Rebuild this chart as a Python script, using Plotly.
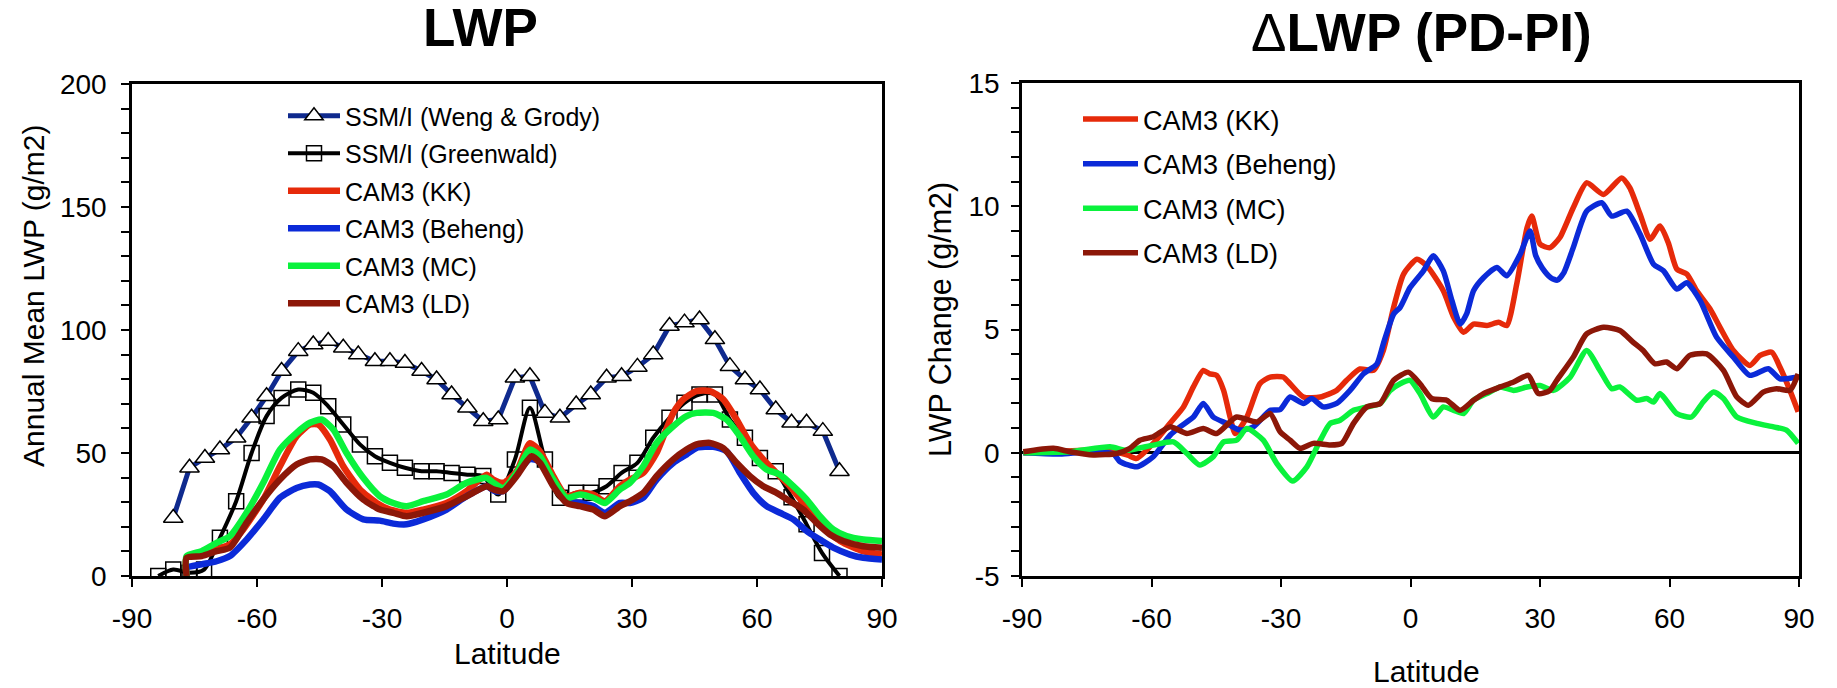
import plotly.graph_objects as go

# page body has an 8px margin; the figure is sized so it fills the window exactly
OFF = 8
W, H = 1837 - OFF, 688 - OFF

# ---------------- Left panel: LWP ----------------
lat_wg = [-80.1, -76.2, -72.5, -68.9, -65.0, -61.3, -57.7, -54.1, -50.1, -46.5, -42.9, -39.3, -35.7, -31.7,
          -28.1, -24.5, -20.5, -16.9, -13.3, -9.5, -5.7, -2.1, 1.9, 5.5, 9.1, 12.7, 16.6, 20.1, 23.9, 27.5,
          31.3, 35.1, 39.0, 42.6, 46.2, 49.9, 53.5, 57.1, 60.7, 64.5, 68.3, 71.9, 75.8, 79.8]
lwp_wg = [23.6, 44, 48, 51.4, 56.2, 64.3, 73.1, 83.3, 91.4, 94.1, 95.5, 92.8, 90, 87.3,
          87.3, 86.6, 83.3, 79.9, 73.8, 68.4, 62.9, 63.6, 80.6, 81.2, 66.3, 64.3, 69.7, 73.8, 80.6, 81.2,
          85, 90, 101.6, 103, 104.3, 96.2, 85.3, 79.9, 75.8, 67.7, 62.3, 62.3, 58.9, 42.6]

lat_gw = [-83.7, -80.1, -76.2, -72.7, -68.9, -65.0, -61.3, -57.7, -54.1, -50.1, -46.5, -42.9, -39.3, -35.3,
          -31.7, -28.1, -24.5, -20.5, -16.9, -13.3, -9.5, -5.7, -2.1, 1.9, 5.5, 9.1, 12.7, 16.6, 20.1, 23.9,
          27.5, 31.3, 35.1, 39.0, 42.6, 46.2, 49.9, 53.5, 57.1, 60.7, 64.5, 68.3, 71.9, 75.6, 79.8]
lwp_gw = [0, 2.6, 1.3, 2.6, 15.5, 30.4, 50, 65, 72.4, 75.8, 74.5, 69, 61.6, 53.5,
          48.7, 46, 44, 42.6, 42.6, 41.9, 41.2, 40.6, 33.1, 47.4, 68.4, 47.4, 31.8, 33.8, 33.8, 36.5,
          41.9, 46, 56.2, 64.3, 70.4, 73.8, 73.8, 63.6, 56.2, 48, 42.6, 32, 21, 9.4, 0]

lat_kk = [-76.9, -76.9, -73.3, -69.7, -66.5, -63.3, -58.5, -54.5, -50.5, -47.3, -45.3, -42.5, -39.3, -35.3,
          -31.3, -28.1, -24.1, -20.1, -14.5, -9.7, -4.9, -3.3, -0.9, 2.3, 5.5, 7.9, 11.1, 14.3, 17.5, 20.7,
          23.5, 27.1, 29.5, 32.7, 35.9, 39.9, 42.3, 45.5, 48.7, 51.9, 55.1, 58.3, 61.5, 64.7, 67.9, 71.1,
          74.3, 77.5, 80.7, 85.5, 90]
lwp_kk = [0, 7.4, 8.7, 10.8, 12.8, 18.9, 31.1, 44.6, 56.8, 61.6, 61.6, 55.5, 44.6, 35.2,
          29.7, 27, 25.7, 27, 29.7, 34.5, 41.2, 39.2, 37.9, 42.5, 54, 50.7, 40.6, 32.4, 33.8, 33.1,
          30.4, 36.5, 39.2, 41.9, 50, 66.3, 71.8, 75.2, 75.2, 71.8, 63.6, 54.1, 47.4, 41.9, 36.5, 29.7,
          23, 17.5, 13.5, 10.1, 8.7]

lat_be = [-76.9, -76.9, -73.3, -69.7, -66.5, -62.5, -58.5, -54.5, -50.5, -47.3, -45.3, -42.5, -38.5, -34.5,
          -30.5, -27.3, -24.1, -20.1, -14.5, -9.7, -4.9, -2.9, -0.9, 2.3, 5.5, 7.9, 11.1, 14.3, 17.5, 20.7,
          23.5, 27.1, 29.5, 32.7, 35.9, 39.9, 43.1, 45.5, 49.5, 52.7, 55.9, 59.1, 62.3, 65.5, 68.7, 71.9,
          75.1, 78.3, 82.3, 85.5, 90]
lwp_be = [0, 3.3, 4.7, 6, 8.1, 14.8, 23, 31.8, 35.8, 37.2, 37.2, 34.5, 27, 23,
          22.5, 21.3, 21, 23, 27, 32.4, 36.5, 34.5, 34.5, 41.5, 47.5, 46.5, 37.9, 30.4, 29.7, 28.4,
          25.7, 29.7, 29.7, 31.8, 39.2, 46, 49.4, 52.1, 52.5, 50.7, 41.9, 33.8, 28.4, 25.7, 23, 18.3,
          14.8, 11.5, 8.7, 7.4, 6.7]

lat_mc = [-76.9, -76.9, -73.3, -69.7, -66.5, -62.5, -58.5, -54.5, -50.5, -47.3, -44.5, -41.7, -38.5, -34.5,
          -30.5, -27.3, -24.1, -20.1, -14.5, -9.7, -4.9, -3.3, -0.9, 2.3, 5.5, 7.9, 11.1, 14.3, 17.5, 20.7,
          23.5, 27.1, 29.5, 32.7, 35.9, 39.9, 43.1, 45.5, 49.5, 52.7, 55.9, 59.1, 62.3, 65.5, 68.7, 71.9,
          75.1, 78.3, 81.5, 85.5, 90]
lwp_mc = [0, 8.1, 10.1, 13.5, 16.2, 25.7, 37.9, 51.4, 58.2, 62.3, 63.6, 59.6, 50, 39.9,
          32.4, 29.7, 28.4, 30.4, 33.1, 37.9, 39.9, 37.9, 35.8, 41.9, 51.4, 48.7, 39.2, 31.8, 33.1, 31.8,
          29.7, 35.2, 37.9, 44.6, 54.1, 60.9, 65, 66.3, 66.3, 63.6, 56.8, 48.7, 43.3, 41.2, 36.5, 31.1,
          24.3, 18.9, 16.2, 14.8, 14.2]

lat_ld = [-76.9, -76.9, -73.3, -69.7, -66.5, -62.5, -58.5, -54.5, -50.5, -47.3, -44.5, -41.7, -38.5, -34.5,
          -30.5, -27.3, -24.1, -20.1, -14.5, -9.7, -4.9, -3.3, -0.9, 2.3, 5.9, 7.9, 11.1, 14.3, 17.5, 20.7,
          23.5, 27.1, 29.5, 32.7, 35.9, 39.9, 43.1, 45.5, 48.7, 51.9, 55.1, 58.3, 61.5, 64.7, 67.9, 71.1,
          74.3, 77.5, 80.7, 85.5, 90]
lwp_ld = [0, 7.4, 8.1, 10.1, 11.5, 21.6, 31.1, 39.2, 45.3, 47.4, 47.4, 44.6, 37.9, 31.1,
          27, 25.7, 24.3, 25.7, 28.4, 32.4, 36.5, 35.2, 34.5, 40.6, 48.7, 46, 36.5, 29.7, 28.4, 27,
          24.3, 28.4, 30.4, 33.8, 40.6, 47.4, 51.4, 53.5, 54.1, 52, 46, 40.6, 36.5, 33.8, 30.4, 27,
          21.6, 16.9, 14.2, 12.1, 11.5]

# ---------------- Right panel: dLWP (PD-PI) ----------------
dlat_kk = [-89.7, -82.7, -75, -68.8, -65.5, -63.4, -59.6, -55.7, -52.6, -50.3, -48, -46.5, -44.9, -43.3,
           -41.8, -40.6, -37.9, -34.9, -32.5, -29.5, -27.9, -24.8, -20.9, -17.1, -14.8, -11.7, -8.6, -6.3,
           -3.9, -1.6, 1.5, 3.8, 7.6, 10, 12.3, 14.6, 17.7, 20.4, 22.3, 24.6, 27, 28.1, 30, 32.3, 34.6,
           37.7, 40.8, 44.7, 48.9, 50.8, 53.2, 55.5, 57.8, 59.7, 61.7, 64, 66.3, 69.4, 71.7, 74.8, 78.6,
           81, 83.7, 85.6, 87.9, 89.8]
dlwp_kk = [0, 0.04, 0.1, 0.05, -0.1, -0.23, 0.38, 1.2, 1.86, 2.67, 3.34, 3.2, 3.14, 2.53,
           1.45, 0.78, 1.45, 2.8, 3.07, 3.07, 2.8, 2.26, 2.26, 2.53, 2.94, 3.4, 3.34, 4.15,
           5.9, 7.25, 7.85, 7.58, 6.57, 5.5, 4.89, 5.22, 5.16, 5.29, 5.16, 6.84, 9.13, 9.6, 8.46, 8.32, 8.73,
           9.94, 10.95, 10.48, 11.15, 10.75, 9.67, 8.66, 9.2, 8.53, 7.45, 7.25, 6.57, 5.83, 5.09, 4.15, 3.54,
           3.95, 4.08, 3.47, 2.53, 1.66]

dlat_be = [-89.7, -81.2, -75, -68.8, -67.3, -63.4, -59.6, -55.7, -53.4, -50.3, -48, -45.7, -42.6, -39.5,
           -36.4, -32.5, -30.2, -27.9, -24.8, -22.9, -20.2, -17.1, -14, -10.9, -7.8, -6.3, -3.9, -2.4,
           -0.1, 3, 5.3, 7.6, 9.6, 11.5, 13, 14.6, 16.9, 20, 22.3, 25.4, 27.7, 29, 30.5, 32.5, 34, 35.5,
           37.7, 40.8, 44.3, 46.6, 50.1, 53.2, 56.3, 58.6, 61.7, 64, 67.1, 70.9, 74.8, 78.6, 82.9, 85.6, 89.8]
dlwp_be = [0, -0.05, 0.04, -0.05, -0.36, -0.57, -0.16, 0.71, 1.05, 1.45, 2.0, 1.45, 1.19, 0.92,
           1.05, 1.72, 1.75, 2.26, 2.0, 2.2, 1.86, 2.0, 2.53, 3.2, 3.6, 4.42, 5.63, 5.9,
           6.7, 7.38, 7.99, 7.38, 6.17, 5.22, 5.63, 6.57, 7.1, 7.52, 7.18, 8.05, 9.0, 8.0, 7.5, 7.1, 7.0, 7.3,
           8.32, 9.8, 10.14, 9.6, 9.8, 8.86, 7.65, 7.38, 6.64, 6.9, 6.17, 4.69, 3.88, 3.14, 3.41, 3.0, 3.07]

dlat_mc = [-89.7, -78.9, -69.6, -65.8, -59.6, -54.9, -51.8, -48.8, -45.7, -43.3, -40.3, -37.9, -34.1, -31,
           -27.3, -24, -20.9, -18.6, -16.3, -13.2, -10.1, -7, -4.7, -2.4, -0.1, 2.2, 5.3, 7.6, 10, 12.3,
           14.6, 17.7, 20.8, 23.9, 27, 30, 33.1, 37, 40.8, 43.9, 46.6, 48.5, 52.4, 54.7, 56.3, 57.8, 61.7,
           65.1, 67.8, 70.2, 72.5, 75.6, 80.2, 84.1, 87.1, 89.8]
dlwp_mc = [0, 0.04, 0.24, 0.1, 0.31, 0.44, -0.03, -0.5, -0.16, 0.44, 0.51, 0.98, 0.51, -0.43,
           -1.15, -0.57, 0.51, 1.19, 1.32, 1.72, 1.86, 2.0, 2.53, 2.8, 2.94, 2.4, 1.45, 1.86, 1.72, 1.59,
           2.13, 2.4, 2.67, 2.53, 2.67, 2.73, 2.53, 3.07, 4.15, 3.34, 2.6, 2.67, 2.13, 2.2, 2.06, 2.4, 1.59,
           1.45, 2.06, 2.46, 2.2, 1.45, 1.19, 1.05, 0.92, 0.38]

dlat_ld = [-89.7, -82.7, -78.9, -73.5, -68.1, -65, -62.7, -59.6, -55.7, -51.8, -48, -44.9, -40.3, -35.6,
           -32.5, -30.2, -27.9, -25.6, -22.5, -18.6, -15.9, -13.2, -10.1, -7, -3.9, -0.5, 2.2, 4.9, 8.4,
           11.5, 14.6, 16.9, 20.8, 23.9, 27.3, 29.6, 32.3, 33.9, 37.7, 40.8, 44.7, 48.5, 51.6, 53.9, 56.6,
           59.3, 61.7, 64.7, 68.6, 72.5, 75.6, 78.3, 81.7, 84.8, 87.9, 89.8]
dlwp_ld = [0.04, 0.18, 0.04, -0.09, -0.03, 0.18, 0.51, 0.65, 1.05, 0.78, 0.98, 0.78, 1.45, 1.25,
           1.59, 0.85, 0.51, 0.18, 0.38, 0.31, 0.38, 1.19, 1.86, 2.0, 2.94, 3.27, 2.8, 2.2, 2.13,
           1.72, 2.13, 2.4, 2.67, 2.87, 3.14, 2.4, 2.53, 2.94, 3.88, 4.82, 5.09, 4.96, 4.48, 4.15, 3.61,
           3.68, 3.41, 3.95, 4.01, 3.34, 2.26, 1.93, 2.46, 2.6, 2.53, 3.2]

# tick labels (hyphen minus as in the reference)
x_ticks = [-90, -60, -30, 0, 30, 60, 90]
x_ticktext = ["-90", "-60", "-30", "0", "30", "60", "90"]
y1_ticks = [0, 50, 100, 150, 200]
y1_ticktext = ["0", "50", "100", "150", "200"]
y1_minor = list(range(0, 201, 10))
y2_ticks = [-5, 0, 5, 10, 15]
y2_ticktext = ["-5", "0", "5", "10", "15"]
y2_minor = list(range(-5, 16, 1))

RED, BLUE, GREEN, BROWN, NAVY = "#e62a0a", "#0b2ad8", "#0af23c", "#8c1708", "#0f2a8e"
FONT = "Arial, Liberation Sans, sans-serif"

fig = go.Figure()

# left traces
fig.add_trace(go.Scatter(x=lat_wg, y=lwp_wg, mode="lines+markers", name="SSM/I (Weng & Grody)",
                         line=dict(color=NAVY, width=5),
                         marker=dict(symbol="triangle-up", size=17, color="white",
                                     line=dict(color="black", width=1.5)),
                         xaxis="x", yaxis="y", legend="legend", legendgroup="a1"))
fig.add_trace(go.Scatter(x=lat_gw, y=lwp_gw, mode="lines+markers", name="SSM/I (Greenwald)",
                         line=dict(color="black", width=4, shape="spline", smoothing=0.8),
                         marker=dict(symbol="square-open", size=15, color="black",
                                     line=dict(color="black", width=1.5)),
                         xaxis="x", yaxis="y", legend="legend", legendgroup="a2"))
for i, (lx, ly, nm, col) in enumerate([(lat_kk, lwp_kk, "CAM3 (KK)", RED),
                                       (lat_be, lwp_be, "CAM3 (Beheng)", BLUE),
                                       (lat_mc, lwp_mc, "CAM3 (MC)", GREEN),
                                       (lat_ld, lwp_ld, "CAM3 (LD)", BROWN)]):
    fig.add_trace(go.Scatter(x=lx, y=ly, mode="lines", name=nm,
                             line=dict(color=col, width=6.5, shape="spline", smoothing=0.6),
                             xaxis="x", yaxis="y", legend="legend", legendgroup="a%d" % (i + 3)))

# right traces
for i, (lx, ly, nm, col) in enumerate([(dlat_kk, dlwp_kk, "CAM3 (KK)", RED),
                                       (dlat_be, dlwp_be, "CAM3 (Beheng)", BLUE),
                                       (dlat_mc, dlwp_mc, "CAM3 (MC)", GREEN),
                                       (dlat_ld, dlwp_ld, "CAM3 (LD)", BROWN)]):
    fig.add_trace(go.Scatter(x=lx, y=ly, mode="lines", name=nm,
                             line=dict(color=col, width=5.5, shape="spline", smoothing=0.6),
                             xaxis="x2", yaxis="y2", legend="legend2", legendgroup="b%d" % i))


def px(x):
    # window pixel -> paper fraction
    return (x - OFF) / W


def py(y):
    return 1 - (y - OFF) / H


axis_common = dict(showline=True, linecolor="black", linewidth=2.5, mirror=True, showgrid=False,
                   ticks="outside", ticklen=8, tickwidth=2, tickcolor="black", automargin=False,
                   tickmode="array", tickfont=dict(family=FONT, size=28, color="black"))
minor_common = dict(ticks="outside", ticklen=8, tickwidth=2, tickcolor="black", showgrid=False,
                    tickmode="array")

fig.update_layout(
    template="none",
    width=W, height=H, margin=dict(l=0, r=0, t=0, b=0, pad=0, autoexpand=False),
    paper_bgcolor="white", plot_bgcolor="white",
    font=dict(family=FONT, color="black"),
    xaxis=dict(domain=[px(132), px(882)], range=[-90, 90], tickvals=x_ticks, ticktext=x_ticktext,
               anchor="y", zeroline=False, ticklabelstandoff=8, **axis_common),
    yaxis=dict(domain=[py(576), py(84)], range=[0, 200], tickvals=y1_ticks, ticktext=y1_ticktext,
               anchor="x", zeroline=False, ticklabelstandoff=9,
               minor=dict(tickvals=y1_minor, **minor_common), **axis_common),
    xaxis2=dict(domain=[px(1022), px(1799)], range=[-90, 90], tickvals=x_ticks, ticktext=x_ticktext,
                anchor="y2", zeroline=False, ticklabelstandoff=8, **axis_common),
    yaxis2=dict(domain=[py(576), py(83)], range=[-5, 15], tickvals=y2_ticks, ticktext=y2_ticktext,
                anchor="x2", ticklabelstandoff=6,
                minor=dict(tickvals=y2_minor, **minor_common),
                zeroline=True, zerolinecolor="black", zerolinewidth=3, **axis_common),
    legend=dict(x=px(283), y=py(93), xanchor="left", yanchor="top", bgcolor="rgba(0,0,0,0)",
                font=dict(family=FONT, size=25, color="black"), itemwidth=52,
                traceorder="grouped", tracegroupgap=2),
    legend2=dict(x=px(1078), y=py(95), xanchor="left", yanchor="top", bgcolor="rgba(0,0,0,0)",
                 font=dict(family=FONT, size=27, color="black"), itemwidth=55,
                 traceorder="grouped", tracegroupgap=6.5),
    annotations=[
        dict(text="<b>LWP</b>", x=px(480), y=py(27), xref="paper", yref="paper",
             xanchor="center", yanchor="middle",
             showarrow=False, font=dict(family=FONT, size=53, color="black")),
        dict(text="Δ<b>LWP (PD-PI)</b>", x=px(1421), y=py(33), xref="paper", yref="paper",
             xanchor="center", yanchor="middle",
             showarrow=False, font=dict(family=FONT, size=53, color="black")),
        dict(text="Latitude", x=px(507), y=py(653), xref="paper", yref="paper",
             xanchor="center", yanchor="middle",
             showarrow=False, font=dict(family=FONT, size=30, color="black")),
        dict(text="Latitude", x=px(1426), y=py(671), xref="paper", yref="paper",
             xanchor="center", yanchor="middle",
             showarrow=False, font=dict(family=FONT, size=30, color="black")),
        dict(text="Annual Mean LWP (g/m2)", x=px(33), y=py(296), xref="paper", yref="paper",
             xanchor="center", yanchor="middle",
             textangle=-90, showarrow=False, font=dict(family=FONT, size=30, color="black")),
        dict(text="LWP Change (g/m2)", x=px(941), y=py(320), xref="paper", yref="paper",
             xanchor="center", yanchor="middle",
             textangle=-90, showarrow=False, font=dict(family=FONT, size=30.5, color="black")),
    ],
)

fig.write_html("out.html")
